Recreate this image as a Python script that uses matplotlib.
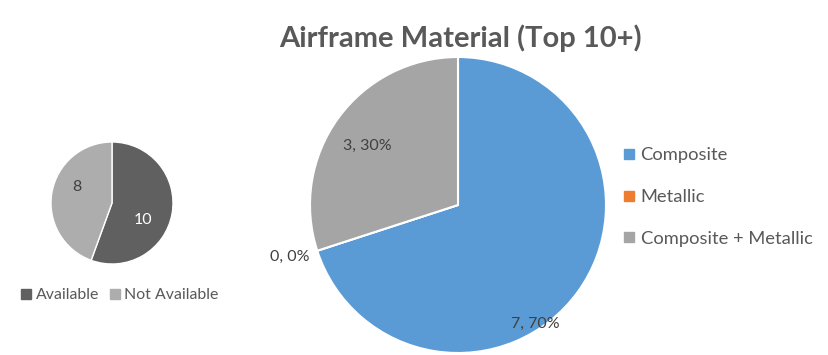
import matplotlib.pyplot as plt
from matplotlib.lines import Line2D

# data
avail_labels = ['Available', 'Not Available']
avail_values = [10, 8]
avail_colors = ['#606060', '#adadad']

mat_labels = ['Composite', 'Metallic', 'Composite + Metallic']
mat_values = [7, 0, 3]
mat_colors = ['#5b9bd5', '#ed7d31', '#a5a5a5']

W, H = 829, 355
plt.rcParams['font.family'] = ['Lato', 'DejaVu Sans']
fig = plt.figure(figsize=(W / 100, H / 100), dpi=100)
txt = '#595959'

def px_axes(cx, cy, r):
    return fig.add_axes([(cx - r) / W, (H - cy - r) / H, 2 * r / W, 2 * r / H])

# small pie
ax1 = px_axes(112, 203, 61)
ax1.pie(avail_values, colors=avail_colors, startangle=90, counterclock=False,
        radius=1, wedgeprops=dict(edgecolor='white', linewidth=1))
ax1.set_xlim(-1, 1); ax1.set_ylim(-1, 1)
ax1.text(0.51, -0.28, str(avail_values[0]), color='white', fontsize=11.5, ha='center', va='center')
ax1.text(-0.57, 0.26, str(avail_values[1]), color='#404040', fontsize=11.5, ha='center', va='center')
h1 = [Line2D([], [], marker='s', ls='', color=c, markersize=7) for c in avail_colors]
fig.legend(h1, avail_labels, loc='center left', bbox_to_anchor=(4 / W, 1 - 295 / H),
           ncol=2, frameon=False, fontsize=11.4, labelcolor=txt, handletextpad=0.1,
           columnspacing=0.5, handlelength=1)

# big pie
total = sum(mat_values)
ax2 = px_axes(458, 205, 148)
ax2.pie(mat_values, colors=mat_colors, startangle=90, counterclock=False,
        radius=1, wedgeprops=dict(edgecolor='white', linewidth=1.5))
ax2.set_xlim(-1, 1); ax2.set_ylim(-1, 1)
label_pos = [(0.52, -0.80), (-1.14, -0.35), (-0.61, 0.40)]
for v, (x, y) in zip(mat_values, label_pos):
    ax2.text(x, y, f'{v}, {v / total:.0%}', color='#404040', fontsize=11.5,
             ha='center', va='center', clip_on=False)
h2 = [Line2D([], [], marker='s', ls='', color=c, markersize=7.5) for c in mat_colors]
fig.legend(h2, mat_labels, loc='center left', bbox_to_anchor=(603 / W, 1 - 197 / H),
           frameon=False, fontsize=13.2, labelcolor=txt, handletextpad=0.15,
           labelspacing=1.4, handlelength=1)

fig.text(460 / W, 1 - 38 / H, 'Airframe Material (Top 10+)', ha='center', va='center',
         fontsize=21, fontweight='bold', color=txt)

fig.savefig('out.png', dpi=100)
